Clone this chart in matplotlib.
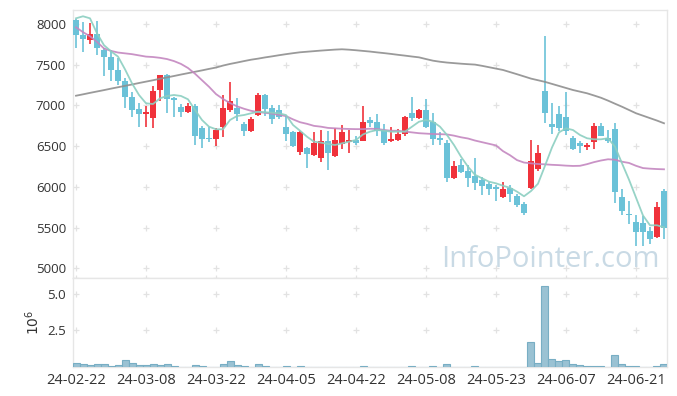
import numpy as np
import matplotlib.pyplot as plt

plt.rcParams['font.family'] = ['Open Sans', 'DejaVu Sans']

# x axis labels (every 10 trading days)
tick_pos = [0, 10, 20, 30, 40, 50, 60, 70, 80]
tick_labels = ['24-02-22', '24-03-08', '24-03-22', '24-04-05', '24-04-22',
               '24-05-08', '24-05-23', '24-06-07', '24-06-21']

# daily OHLC
opens = [8050, 7870, 7800, 7880, 7680, 7590, 7440, 7300, 7110, 6960,
         6890, 6850, 7190, 7370, 7090, 6980, 6920, 6990, 6720, 6600,
         6590, 6740, 6950, 6970, 6770, 6690, 6880, 7130, 6970, 6940,
         6740, 6680, 6430, 6480, 6390, 6360, 6560, 6380, 6530, 6550,
         6580, 6570, 6820, 6800, 6700, 6560, 6580, 6650, 6910, 6850,
         6940, 6800, 6600, 6540, 6110, 6270, 6200, 6130, 6080, 6040,
         6000, 5880, 5990, 5890, 5790, 5990, 6220, 7180, 6770, 6900,
         6860, 6600, 6540, 6490, 6550, 6750, 6600, 6710, 5880, 5670,
         5570, 5560, 5460, 5390, 5950]
highs = [8060, 8020, 8010, 8040, 7700, 7680, 7580, 7340, 7160, 7030,
         6990, 7240, 7380, 7390, 7100, 7020, 7030, 7020, 6750, 6740,
         6720, 7130, 7290, 7090, 6800, 6860, 7150, 7140, 7010, 7010,
         6870, 6690, 6690, 6490, 6670, 6700, 6690, 6720, 6760, 6700,
         6630, 6990, 6860, 6900, 6770, 6740, 6710, 6870, 7110, 6960,
         7080, 6910, 6680, 6580, 6320, 6340, 6270, 6350, 6120, 6060,
         6020, 6060, 6030, 5910, 5810, 6580, 6520, 7850, 7030, 6990,
         7170, 6620, 6570, 6540, 6780, 6790, 6700, 6780, 5980, 5830,
         5660, 5640, 5510, 5810, 5980]
lows = [7700, 7660, 7760, 7620, 7360, 7300, 7250, 6970, 6860, 6740,
        6730, 6720, 7050, 6910, 6860, 6860, 6910, 6520, 6480, 6550,
        6500, 6610, 6920, 6810, 6630, 6680, 6870, 6870, 6770, 6830,
        6560, 6490, 6390, 6230, 6380, 6310, 6210, 6370, 6470, 6420,
        6520, 6560, 6740, 6620, 6520, 6550, 6570, 6620, 6810, 6840,
        6720, 6520, 6520, 6060, 6100, 6170, 6000, 5960, 5900, 5900,
        5830, 5870, 5810, 5750, 5660, 5980, 6200, 6780, 6650, 6690,
        6640, 6460, 6420, 6450, 6470, 6620, 6540, 5800, 5660, 5550,
        5270, 5280, 5300, 5380, 5360]
closes = [7860, 7820, 7880, 7700, 7590, 7440, 7300, 7110, 6940, 6900,
          6920, 7180, 7370, 7080, 7070, 6920, 6990, 6620, 6590, 6590,
          6700, 6970, 7060, 6890, 6690, 6830, 7130, 6960, 6830, 6860,
          6650, 6500, 6670, 6400, 6540, 6560, 6420, 6580, 6680, 6580,
          6540, 6800, 6790, 6690, 6540, 6590, 6650, 6860, 6850, 6940,
          6740, 6590, 6580, 6110, 6260, 6190, 6110, 6050, 6010, 5980,
          5980, 5980, 5920, 5780, 5680, 6320, 6420, 6910, 6740, 6720,
          6690, 6470, 6500, 6510, 6750, 6630, 6560, 5940, 5710, 5660,
          5450, 5450, 5360, 5750, 5500]

# moving averages as drawn
ma5 = [8070, 8095, 8070, 7886, 7740, 7665, 7600, 7444, 7272, 7129,
       7027, 7018, 7088, 7117, 7129, 7117, 7076, 6945, 6822, 6740,
       6708, 6708, 6822, 6871, 6883, 6904, 6924, 6917, 6912, 6904,
       6883, 6761, 6691, 6617, 6556, 6544, 6528, 6515, 6536, 6556,
       6577, 6645, 6679, 6699, 6691, 6679, 6679, 6679, 6740, 6801,
       6822, 6801, 6740, 6638, 6515, 6372, 6249, 6150, 6107, 6065,
       6045, 6015, 5990, 5943, 5886, 5950, 6040, 6260, 6485, 6670,
       6720, 6699, 6638, 6598, 6585, 6585, 6598, 6495, 6291, 6090,
       5870, 5650, 5530, 5530, 5505]
ma20 = [7960, 7900, 7850, 7780, 7700, 7670, 7650, 7640, 7630, 7615,
        7600, 7595, 7585, 7570, 7545, 7510, 7460, 7390, 7310, 7230,
        7140, 7080, 7030, 6990, 6960, 6935, 6920, 6910, 6900, 6885,
        6870, 6830, 6795, 6775, 6750, 6740, 6725, 6720, 6715, 6712,
        6710, 6710, 6715, 6712, 6700, 6690, 6690, 6680, 6670, 6660,
        6655, 6650, 6648, 6645, 6630, 6610, 6595, 6570, 6550, 6530,
        6510, 6440, 6390, 6330, 6300, 6290, 6282, 6278, 6272, 6268,
        6262, 6258, 6260, 6280, 6305, 6325, 6340, 6335, 6310, 6295,
        6260, 6232, 6225, 6220, 6217]
ma60 = [7120, 7137, 7155, 7172, 7189, 7207, 7224, 7241, 7258, 7276,
        7293, 7310, 7328, 7345, 7362, 7380, 7397, 7414, 7431, 7449,
        7466, 7490, 7510, 7527, 7545, 7562, 7575, 7590, 7603, 7617,
        7630, 7642, 7653, 7660, 7667, 7674, 7680, 7686, 7690, 7685,
        7678, 7670, 7662, 7652, 7643, 7633, 7622, 7612, 7601, 7591,
        7570, 7550, 7537, 7527, 7520, 7513, 7507, 7502, 7487, 7470,
        7453, 7436, 7410, 7384, 7357, 7330, 7310, 7290, 7265, 7240,
        7215, 7190, 7170, 7150, 7123, 7095, 7060, 7022, 6985, 6945,
        6905, 6875, 6845, 6815, 6782]

# volume in millions
volume = [0.30, 0.23, 0.16, 0.23, 0.23, 0.09, 0.16, 0.51, 0.30, 0.16,
          0.16, 0.23, 0.16, 0.23, 0.09, 0.03, 0.03, 0.16, 0.09, 0.03,
          0.03, 0.23, 0.44, 0.16, 0.09, 0.03, 0.23, 0.09, 0.03, 0.03,
          0.09, 0.03, 0.09, 0.03, 0.03, 0.03, 0.03, 0.03, 0.03, 0.03,
          0.03, 0.09, 0.03, 0.03, 0.03, 0.01, 0.01, 0.03, 0.09, 0.03,
          0.03, 0.09, 0.03, 0.23, 0.03, 0.01, 0.03, 0.09, 0.03, 0.03,
          0.01, 0.03, 0.03, 0.03, 0.03, 1.74, 0.30, 5.53, 0.57, 0.39,
          0.51, 0.23, 0.16, 0.09, 0.09, 0.09, 0.03, 0.85, 0.23, 0.09,
          0.09, 0.03, 0.03, 0.09, 0.23]

up_col = '#f0323b'
down_col = '#6bc2d8'
grid_col = '#e2e2e2'
spine_col = '#e6e6e6'

o = np.array(opens)
c = np.array(closes)
idx = np.arange(len(o))
is_up = c > o
cols = [up_col if u else down_col for u in is_up]
body_bottom = np.minimum(o, c)
body_h = np.maximum(np.abs(c - o), 12)

fig = plt.figure(figsize=(6.77, 3.96), dpi=100)
ax = fig.add_axes([73/677, 1-278/396, 594/677, 268/396])
axv = fig.add_axes([73/677, 1-367/396, 594/677, 89/396], sharex=ax)

ax.text(0.987, 0.04, 'InfoPointer.com', transform=ax.transAxes, ha='right',
        va='baseline', fontsize=21, color='#c9dae5', zorder=1)

ax.vlines(idx, lows, highs, colors=cols, lw=1.2, zorder=3)
ax.bar(idx, body_h, bottom=body_bottom, width=0.72, color=cols, zorder=3)
ax.plot(idx, ma60, color='#8f8f8f', lw=1.3, alpha=0.9, zorder=4)
ax.plot(idx, ma20, color='#c487c0', lw=1.3, alpha=0.9, zorder=4)
ax.plot(idx, ma5, color='#8ccfc1', lw=1.3, alpha=0.9, zorder=4)

ax.set_xlim(-0.43, 84.43)
ax.set_ylim(4883, 8172)
price_ticks = [5000, 5500, 6000, 6500, 7000, 7500, 8000]
ax.set_yticks(price_ticks)
gx, gy = np.meshgrid(tick_pos, price_ticks + [4883])
ax.scatter(gx.ravel(), gy.ravel(), marker='+', s=18, color=grid_col,
           lw=0.9, zorder=0, clip_on=False)

axv.bar(idx, volume, width=1.0, color='#9ac2d3', edgecolor='#78aec4',
        lw=0.8, zorder=3)
axv.set_ylim(0, 6.08)
axv.set_yticks([2.5, 5.0])
axv.set_yticklabels(['2.5', '5.0'])
gx, gy = np.meshgrid(tick_pos, [2.5, 5.0])
axv.scatter(gx.ravel(), gy.ravel(), marker='+', s=18, color=grid_col,
            lw=0.9, zorder=0)
axv.set_ylabel('$10^6$', fontsize=10, color='#333333', labelpad=3)

axv.set_xticks(tick_pos)
axv.set_xticklabels(tick_labels)
ax.tick_params(axis='x', labelbottom=False, length=0)

for a in (ax, axv):
    a.set_facecolor('white')
    for s in a.spines.values():
        s.set_color(spine_col)
        s.set_linewidth(1)
    a.tick_params(length=0, labelsize=9.5, colors='#333333', pad=5)
axv.tick_params(axis='x', labelsize=10.5, pad=4)

fig.savefig('out.png', dpi=100, facecolor='white')
